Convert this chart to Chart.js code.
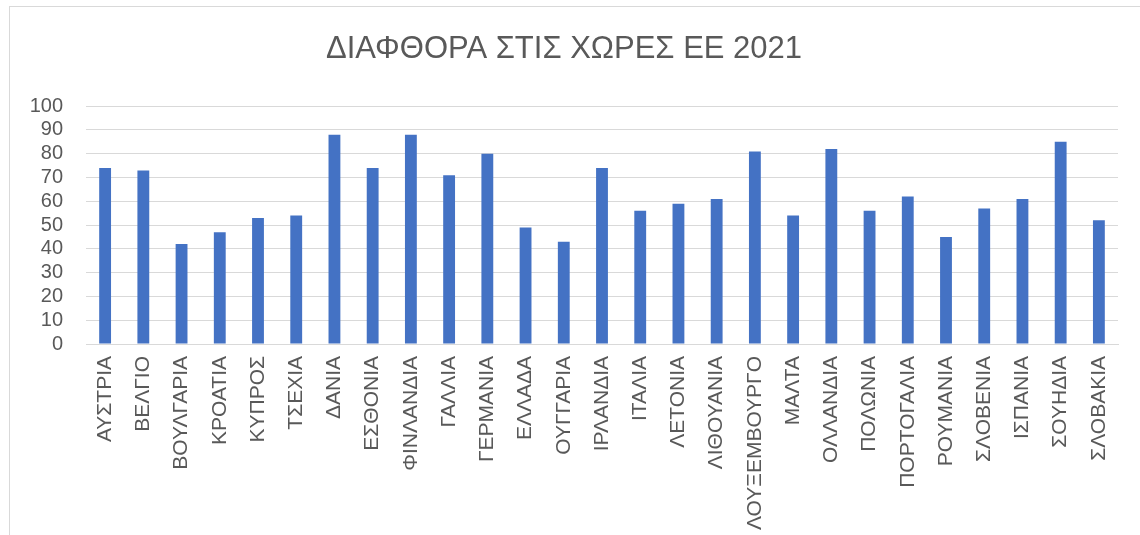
<!DOCTYPE html>
<html>
<head>
<meta charset="utf-8">
<script src="https://cdn.jsdelivr.net/npm/chart.js@4/dist/chart.umd.min.js"></script>
<style>
  html, body { margin: 0; padding: 0; background: #fff; }
  #frame { position: absolute; left: 9px; top: 6px; width: 1140px; height: 540px; border: 1px solid #d9d9d9; }
  #wrap { position: absolute; left: 0; top: 0; width: 1140px; height: 535px; }
</style>
</head>
<body>
<div id="frame"></div>
<div id="wrap"><canvas id="chart"></canvas></div>
<script>
// categories (EU countries) and CPI 2021 scores
const countries = [
  "ΑΥΣΤΡΙΑ", "ΒΕΛΓΙΟ", "ΒΟΥΛΓΑΡΙΑ", "ΚΡΟΑΤΙΑ", "ΚΥΠΡΟΣ", "ΤΣΕΧΙΑ", "ΔΑΝΙΑ",
  "ΕΣΘΟΝΙΑ", "ΦΙΝΛΑΝΔΙΑ", "ΓΑΛΛΙΑ", "ΓΕΡΜΑΝΙΑ", "ΕΛΛΑΔΑ", "ΟΥΓΓΑΡΙΑ", "ΙΡΛΑΝΔΙΑ",
  "ΙΤΑΛΙΑ", "ΛΕΤΟΝΙΑ", "ΛΙΘΟΥΑΝΙΑ", "ΛΟΥΞΕΜΒΟΥΡΓΟ", "ΜΑΛΤΑ", "ΟΛΛΑΝΔΙΑ",
  "ΠΟΛΩΝΙΑ", "ΠΟΡΤΟΓΑΛΙΑ", "ΡΟΥΜΑΝΙΑ", "ΣΛΟΒΕΝΙΑ", "ΙΣΠΑΝΙΑ", "ΣΟΥΗΔΙΑ", "ΣΛΟΒΑΚΙΑ"
];
const scores = [
  74, 73, 42, 47, 53, 54, 88,
  74, 88, 71, 80, 49, 43, 74,
  56, 59, 61, 81, 54, 82,
  56, 62, 45, 57, 61, 85, 52
];
const yTicks = { min: 0, max: 100, step: 10 };

const textColor = "#595959";
const gridColor = "#d9d9d9";
const font = "'Liberation Sans', Arial, sans-serif";

new Chart(document.getElementById("chart"), {
  type: "bar",
  data: {
    labels: countries,
    datasets: [{
      data: scores,
      backgroundColor: "#4472C4",
      borderWidth: 0,
      barPercentage: 0.31,
      categoryPercentage: 1,
    }],
  },
  options: {
    responsive: true,
    maintainAspectRatio: false,
    animation: false,
    layout: {
      padding: { left: 10, right: 22, top: 0, bottom: 0 },
    },
    plugins: {
      legend: { display: false },
      tooltip: { enabled: false },
      title: {
        display: true,
        text: "ΔΙΑΦΘΟΡΑ ΣΤΙΣ ΧΩΡΕΣ ΕΕ 2021",
        color: textColor,
        font: { family: font, size: 31, weight: "normal" },
        padding: { top: 31, bottom: 38 },
      },
    },
    scales: {
      x: {
        grid: { display: false, drawTicks: false },
        border: { color: gridColor, width: 1 },
        ticks: {
          color: textColor,
          font: { family: font, size: 21 },
          maxRotation: 90,
          minRotation: 90,
          autoSkip: false,
          padding: 12,
        },
        afterFit: (s) => { s.height = 191; },
      },
      y: {
        min: yTicks.min,
        max: yTicks.max,
        grid: { color: gridColor, lineWidth: 1, drawTicks: false },
        border: { display: false },
        ticks: {
          stepSize: yTicks.step,
          autoSkip: false,
          color: textColor,
          font: { family: font, size: 20 },
          padding: 23,
        },
        afterFit: (s) => { s.width = 76; },
      },
    },
  },
});
</script>
</body>
</html>
